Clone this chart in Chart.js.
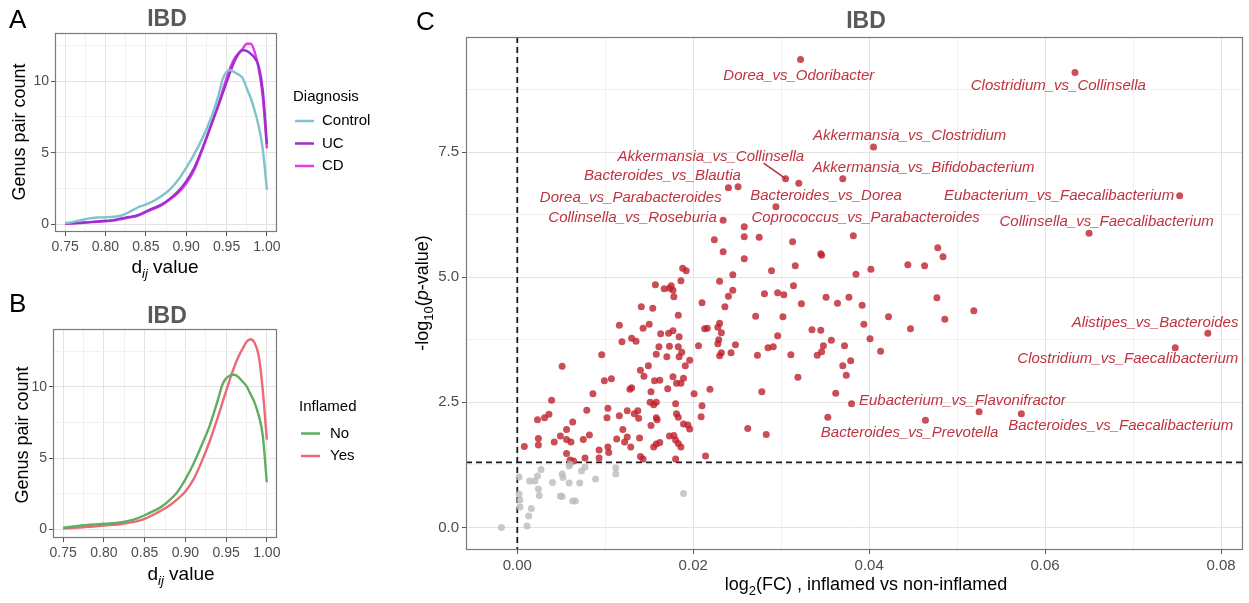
<!DOCTYPE html>
<html><head><meta charset="utf-8">
<script src="https://cdn.jsdelivr.net/npm/chart.js@4.4.0/dist/chart.umd.min.js"></script>
<style>
html,body{margin:0;padding:0;background:#fff;width:1249px;height:603px;overflow:hidden}
canvas{position:absolute;display:block}
</style></head><body>
<canvas id="cA" width="380" height="285" style="left:0;top:0;width:380px;height:285px"></canvas>
<canvas id="cB" width="380" height="318" style="left:0;top:285px;width:380px;height:318px"></canvas>
<canvas id="cC" width="869" height="603" style="left:380px;top:0;width:869px;height:603px"></canvas>
<script>
// ---------- DATA ----------
const dGrid = [0.75,0.76,0.77,0.78,0.79,0.80,0.81,0.82,0.83,0.84,0.85,0.86,0.87,0.88,0.89,0.90,0.91,0.92,0.93,0.94,0.945,0.95,0.955,0.96,0.965,0.97,0.975,0.98,0.985,0.99,0.995,1.00];
const diagNames = ['Control','UC','CD'];
const controlCount = [0.08,0.18,0.30,0.42,0.48,0.50,0.53,0.62,0.88,1.18,1.38,1.65,2.00,2.45,3.10,3.95,4.90,6.00,7.30,9.00,10.10,10.65,10.75,10.60,10.45,10.20,9.50,8.80,7.90,6.80,5.20,2.40];
const ucCount = [0.05,0.08,0.12,0.16,0.20,0.25,0.30,0.42,0.52,0.65,0.90,1.15,1.40,1.80,2.30,3.00,3.95,5.30,6.80,8.30,9.10,9.90,10.70,11.40,11.90,12.15,12.10,11.90,11.60,11.00,9.30,5.60];
const cdCount = [0.04,0.07,0.10,0.14,0.18,0.22,0.26,0.38,0.48,0.60,0.85,1.10,1.35,1.75,2.20,2.85,3.80,5.20,6.75,8.40,9.30,10.20,11.00,11.60,11.95,12.25,12.60,12.60,12.00,10.80,8.80,5.30];
const inflNames = ['No','Yes'];
const noCount = [0.10,0.17,0.24,0.30,0.34,0.38,0.42,0.48,0.58,0.74,0.98,1.25,1.55,2.00,2.60,3.50,4.60,5.90,7.30,9.10,10.10,10.60,10.80,10.85,10.70,10.40,10.05,9.50,8.90,8.00,6.60,3.30];
const yesCount = [0.05,0.08,0.12,0.16,0.20,0.25,0.30,0.35,0.45,0.55,0.72,1.00,1.30,1.65,2.10,2.65,3.50,4.75,6.20,7.90,8.80,9.70,10.60,11.40,12.10,12.65,13.15,13.35,13.10,12.20,9.80,6.30];
const abXTicks = [0.75,0.775,0.80,0.825,0.85,0.875,0.90,0.925,0.95,0.975,1.00];
const abYTicks = [0,2.5,5,7.5,10,12.5];

const fcRed = [0.0322,0.0634,0.0405,0.0370,0.0305,0.0320,0.0240,0.0251,0.0294,0.0234,
0.0753,0.0650,0.0785,0.0748,0.0380,0.0464,0.0353,0.0525,0.0573,0.0258,
0.0224,0.0258,0.0275,0.0313,0.0382,0.0234,0.0258,0.0345,0.0346,0.0478,
0.0484,0.0316,0.0289,0.0444,0.0463,0.0402,0.0385,0.0230,0.0245,0.0314,
0.0245,0.0240,0.0281,0.0296,0.0303,0.0351,0.0377,0.0364,0.0392,0.0323,
0.0236,0.0271,0.0302,0.0422,0.0486,0.0477,0.0519,0.0188,0.0192,0.0186,
0.0157,0.0167,0.0175,0.0177,0.0173,0.0178,0.0210,0.0141,0.0154,0.0183,
0.0230,0.0228,0.0232,0.0335,0.0345,0.0394,0.0447,0.0296,0.0229,0.0228,
0.0248,0.0357,0.0401,0.0285,0.0291,0.0348,0.0372,0.0232,0.0243,0.0230,
0.0273,0.0311,0.0341,0.0346,0.0413,0.0379,0.0370,0.0374,0.0319,0.0278,
0.0362,0.0262,0.0283,0.0116,0.0143,0.0150,0.0163,0.0172,0.0177,0.0184,
0.0206,0.0213,0.0216,0.0119,0.0130,0.0135,0.0161,0.0173,0.0183,0.0187,
0.0158,0.0170,0.0184,0.0196,0.0096,0.0051,0.0191,0.0140,0.0144,0.0149,
0.0177,0.0181,0.0189,0.0156,0.0162,0.0171,0.0186,0.0099,0.0107,0.0128,
0.0130,0.0086,0.0152,0.0201,0.0219,0.0039,0.0151,0.0155,0.0158,0.0180,
0.0210,0.0103,0.0079,0.0036,0.0031,0.0023,0.0116,0.0125,0.0137,0.0133,
0.0138,0.0102,0.0158,0.0159,0.0181,0.0183,0.0209,0.0063,0.0189,0.0194,
0.0196,0.0056,0.0120,0.0152,0.0049,0.0082,0.0024,0.0042,0.0056,0.0061,
0.0075,0.0113,0.0125,0.0122,0.0139,0.0173,0.0178,0.0180,0.0183,0.0186,
0.0155,0.0158,0.0162,0.0129,0.0008,0.0103,0.0104,0.0093,0.0093,0.0056,
0.0060,0.0064,0.0077,0.0140,0.0143,0.0180,0.0214,0.0024];
const pRed = [9.35,9.09,7.60,6.97,6.97,6.88,6.79,6.81,6.41,6.14,
6.63,5.88,3.88,3.59,2.47,2.14,2.20,2.31,2.27,6.01,
5.75,5.81,5.80,5.71,5.83,5.51,5.37,5.47,5.44,5.59,
5.41,5.23,5.13,5.25,5.23,5.16,5.06,4.92,5.05,4.83,
4.74,4.62,4.67,4.69,4.65,4.60,4.60,4.48,4.44,4.47,
4.41,4.22,4.21,4.21,4.16,4.59,4.33,5.18,5.13,4.93,
4.85,4.77,4.83,4.74,4.78,4.61,4.49,4.41,4.38,4.24,
4.08,4.00,3.89,3.95,3.94,4.06,3.97,3.83,3.75,3.67,
3.65,3.74,3.77,3.59,3.61,3.63,3.63,3.49,3.49,3.43,
3.44,3.45,3.44,3.51,3.52,3.33,3.23,3.04,3.00,2.71,
2.68,1.98,1.86,4.04,3.98,4.06,3.87,3.88,3.93,3.81,
3.63,3.97,3.98,3.71,3.78,3.72,3.61,3.62,3.61,3.50,
3.46,3.41,3.41,3.34,3.45,3.22,3.23,3.14,3.02,3.23,
3.01,2.88,2.98,2.93,2.94,2.77,2.88,2.93,2.97,2.76,
2.79,2.67,2.71,2.67,2.76,2.54,2.50,2.45,2.50,2.47,
2.43,2.38,2.34,2.26,2.19,2.15,2.23,2.33,2.33,2.27,
2.18,2.19,2.19,2.15,2.27,2.20,2.21,2.11,2.07,2.05,
1.97,1.96,1.96,2.04,1.83,1.85,1.78,1.71,1.76,1.71,
1.76,1.77,1.81,1.71,1.79,1.83,1.84,1.75,1.68,1.61,
1.61,1.67,1.70,1.61,1.62,1.61,1.50,1.55,1.39,1.48,
1.35,1.33,1.39,1.42,1.37,1.37,1.43,1.65];
const fcGrey = [-0.0018,0.0011,0.0013,0.0016,0.0003,0.0003,0.0002,0.0002,0.0024,0.0025,
0.0014,0.0020,0.0023,0.0027,0.0040,0.0051,0.0052,0.0059,0.0059,0.0049,
0.0051,0.0063,0.0066,0.0071,0.0073,0.0077,0.0089,0.0112,0.0112,0.0189,0.0060];
const pGrey = [0.00,0.03,0.23,0.38,0.41,0.55,0.67,1.01,0.77,0.64,
0.93,0.93,1.03,1.16,0.90,1.07,1.00,1.23,0.89,0.63,
0.62,0.53,0.53,0.89,1.13,1.21,0.97,1.19,1.07,0.68,1.27];
const labelNames = ['Dorea_vs_Odoribacter','Clostridium_vs_Collinsella','Akkermansia_vs_Clostridium','Akkermansia_vs_Collinsella','Akkermansia_vs_Bifidobacterium','Bacteroides_vs_Blautia','Bacteroides_vs_Dorea','Dorea_vs_Parabacteroides','Eubacterium_vs_Faecalibacterium','Collinsella_vs_Roseburia','Coprococcus_vs_Parabacteroides','Collinsella_vs_Faecalibacterium','Alistipes_vs_Bacteroides','Clostridium_vs_Faecalibacterium','Eubacterium_vs_Flavonifractor','Bacteroides_vs_Prevotella','Bacteroides_vs_Faecalibacterium'];
const labelFc = [0.0320,0.0615,0.0446,0.0220,0.0462,0.0165,0.0351,0.0129,0.0616,0.0131,0.0396,0.0670,0.0725,0.0694,0.0506,0.0446,0.0686];
const labelP = [9.03,8.83,7.83,7.41,7.18,7.03,6.63,6.58,6.63,6.18,6.18,6.10,4.09,3.36,2.53,1.90,2.04];
const connFc = [0.0280,0.0305];
const connP = [7.28,6.97];
const pThreshold = 1.30103;
const cXTicks = [0,0.01,0.02,0.03,0.04,0.05,0.06,0.07,0.08];
const cYTicks = [0,1.25,2.5,3.75,5,6.25,7.5,8.75];

// ---------- HELPERS ----------
const FF = '"Liberation Sans", Arial, Helvetica, sans-serif';
Chart.defaults.font.family = FF;
Chart.defaults.color = '#4d4d4d';
function isMult(v, step){ const r = v/step; return Math.abs(r - Math.round(r)) < 1e-6; }
function axisCfg(o){
  return {
    type:'linear', min:o.min, max:o.max,
    afterBuildTicks: s => { s.ticks = o.ticks.map(v => ({value:v})); },
    afterFit: s => { s[o.fitProp] = o.fit; },
    ticks:{autoSkip:false, maxRotation:0, minRotation:0, padding:o.pad, color:'#4d4d4d', font:{size:o.size},
      callback: v => isMult(v, o.major) ? o.fmt(v) : ''},
    grid:{
      color: c => (c.tick && isMult(c.tick.value, o.major)) ? '#e3e3e3' : '#f1f1f1',
      lineWidth: 1, tickLength: 4, tickWidth: 1,
      tickColor: c => (c.tick && isMult(c.tick.value, o.major)) ? '#555555' : 'rgba(0,0,0,0)'
    },
    border:{display:false}
  };
}
function rich(ctx, parts, x, y, rot, color){
  ctx.save();
  ctx.translate(x, y); if (rot) ctx.rotate(rot);
  ctx.textBaseline = 'middle'; ctx.textAlign = 'left'; ctx.fillStyle = color || '#000';
  let w = 0;
  const ws = parts.map(p => { ctx.font = (p[2]||'') + ' ' + p[1] + 'px ' + FF; const m = ctx.measureText(p[0]).width; w += m; return m; });
  let cx = -w/2;
  parts.forEach((p,i) => { ctx.font = (p[2]||'') + ' ' + p[1] + 'px ' + FF; ctx.fillText(p[0], cx, p[3]||0); cx += ws[i]; });
  ctx.restore();
}
function txt(ctx, s, x, y, font, color, align){
  ctx.save(); ctx.font = font + ' ' + FF; ctx.fillStyle = color; ctx.textAlign = align || 'center'; ctx.textBaseline = 'middle';
  ctx.fillText(s, x, y); ctx.restore();
}
function border(chart){
  const a = chart.chartArea, ctx = chart.ctx;
  ctx.save(); ctx.strokeStyle = '#7a7a7a'; ctx.lineWidth = 1.2;
  ctx.strokeRect(Math.round(a.left)+0.5, Math.round(a.top)+0.5, Math.round(a.right-a.left)-1, Math.round(a.bottom-a.top)-1);
  ctx.restore();
}
function legend(ctx, title, names, colors, x, yTitle, ys, textX){
  txt(ctx, title, x, yTitle, '15px', '#000', 'left');
  names.forEach((n,i) => {
    ctx.save(); ctx.strokeStyle = colors[i]; ctx.lineWidth = 2.5;
    ctx.beginPath(); ctx.moveTo(x+2, ys[i]); ctx.lineTo(x+21, ys[i]); ctx.stroke(); ctx.restore();
    txt(ctx, n, textX, ys[i], '15px', '#000', 'left');
  });
}
function curve(xs, ys, color){
  return {data: xs.map((x,i) => ({x, y: ys[i]})), showLine:true, borderColor:color, borderWidth:2.4,
    pointRadius:0, cubicInterpolationMode:'monotone', fill:false};
}
const diagColors = ['#7fc4cc','#9b30cf','#e23ae6'];
const inflColors = ['#5fae62','#ec6a73'];

function curveChart(id, names, series, colors, pad, yFit, legendPos, letter, titleY, yTitleX, yTitleY, xTitleX, xTitleY, yMax, yMin){
  new Chart(document.getElementById(id), {
    type:'scatter',
    data:{datasets: series.map((s,i) => curve(dGrid, s, colors[i]))},
    options:{
      responsive:false, animation:false, events:[],
      layout:{padding:pad},
      plugins:{legend:{display:false}, tooltip:{enabled:false}},
      scales:{
        x: axisCfg({min:0.7375, max:1.0125, ticks:abXTicks, major:0.05, fmt:v=>v.toFixed(2), size:14, pad:3, fitProp:'height', fit:30}),
        y: axisCfg({min:yMin, max:yMax, ticks:abYTicks, major:5, fmt:v=>String(v), size:14, pad:2, fitProp:'width', fit:yFit})
      }
    },
    plugins:[{id:'deco'+id, afterDraw(chart){
      const ctx = chart.ctx;
      border(chart);
      txt(ctx, letter, 9, letter==='A'?21:20, '26px', '#000', 'left');
      txt(ctx, 'IBD', 167, titleY, 'bold 23px', '#595959');
      rich(ctx, [['Genus pair count',18]], yTitleX, yTitleY, -Math.PI/2);
      rich(ctx, [['d',19],['ij',13,'italic',6],[' value',19]], xTitleX, xTitleY, 0);
      legend(ctx, legendPos.title, names, colors, legendPos.x, legendPos.ty, legendPos.ys, legendPos.tx);
    }}]
  });
}

curveChart('cA', diagNames, [controlCount, ucCount, cdCount], diagColors,
  {left:0, right:103, top:33, bottom:23}, 55,
  {title:'Diagnosis', x:293, ty:97, ys:[121,143.5,166], tx:322},
  'A', 20, 20, 132, 165, 268, 13.35, -0.53);

curveChart('cB', inflNames, [noCount, yesCount], inflColors,
  {left:0, right:103, top:44, bottom:35}, 53,
  {title:'Inflamed', x:299, ty:122, ys:[148.5,171], tx:330},
  'B', 31.5, 23, 150, 181, 290, 14.07, -0.62);

// ---------- PANEL C ----------
new Chart(document.getElementById('cC'), {
  type:'scatter',
  data:{datasets:[
    {data: fcGrey.map((x,i)=>({x, y:pGrey[i]})), pointRadius:3.5, backgroundColor:'rgba(188,188,188,0.8)', borderWidth:0},
    {data: fcRed.map((x,i)=>({x, y:pRed[i]})), pointRadius:3.5, backgroundColor:'rgba(190,32,42,0.8)', borderWidth:0},
    {data: connFc.map((x,i)=>({x, y:connP[i]})), showLine:true, pointRadius:0, borderColor:'#b8323c', borderWidth:1.6}
  ]},
  options:{
    responsive:false, animation:false, events:[],
    layout:{padding:{left:0, right:6, top:37, bottom:23}},
    plugins:{legend:{display:false}, tooltip:{enabled:false}},
    scales:{
      x: axisCfg({min:-0.00583, max:0.0825, ticks:cXTicks, major:0.02, fmt:v=>v.toFixed(2), size:15, pad:3, fitProp:'height', fit:30}),
      y: axisCfg({min:-0.45, max:9.8, ticks:cYTicks, major:2.5, fmt:v=>v.toFixed(1), size:15, pad:3, fitProp:'width', fit:86})
    }
  },
  plugins:[{id:'decoC',
    beforeDatasetsDraw(chart){
      const ctx = chart.ctx, a = chart.chartArea, xs = chart.scales.x, ys = chart.scales.y;
      ctx.save(); ctx.strokeStyle = '#1a1a1a'; ctx.lineWidth = 1.8; ctx.setLineDash([6,4]);
      const x0 = xs.getPixelForValue(0), yT = ys.getPixelForValue(pThreshold);
      ctx.beginPath(); ctx.moveTo(x0, a.top); ctx.lineTo(x0, a.bottom); ctx.stroke();
      ctx.beginPath(); ctx.moveTo(a.left, yT); ctx.lineTo(a.right, yT); ctx.stroke();
      ctx.restore();
    },
    afterDraw(chart){
      const ctx = chart.ctx, xs = chart.scales.x, ys = chart.scales.y;
      border(chart);
      labelNames.forEach((n,i) => {
        txt(ctx, n, xs.getPixelForValue(labelFc[i]), ys.getPixelForValue(labelP[i]), 'italic 15px', '#bf3340');
      });
      txt(ctx, 'C', 36, 23, '26px', '#000', 'left');
      txt(ctx, 'IBD', 486, 22, 'bold 23px', '#595959');
      rich(ctx, [['-log',18],['10',13,'',6],['(',18],['p',18,'italic'],['-value)',18]], 43, 293, -Math.PI/2);
      rich(ctx, [['log',18],['2',13,'',6],['(FC) , inflamed vs non-inflamed',18]], 486, 585, 0);
    }
  }]
});
</script>
</body></html>
